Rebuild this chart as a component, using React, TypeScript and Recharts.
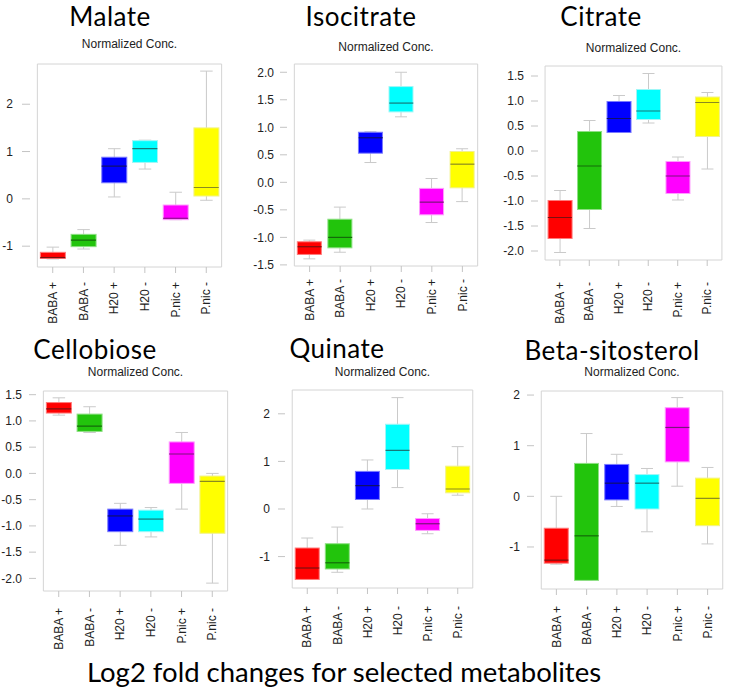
import React from "react";
import { ComposedChart, Bar, Scatter, XAxis, YAxis, ReferenceArea } from "recharts";

const groups = ["BABA +", "BABA -", "H20 +", "H20 -", "P.nic +", "P.nic -"];
const fills = ["#ff0000", "#22c40c", "#0000ff", "#00ffff", "#ff00ff", "#ffff00"];
const borders = ["#ff7a7a", "#8ee084", "#7a7aff", "#9ff7f7", "#ff9cff", "#f2f28a"];
const medians = ["#7a1010", "#146a0a", "#10106a", "#157a7a", "#7a157a", "#8a8a20"];

// [min, q1, median, q3, max] per group
const malate = [
  [-1.27, -1.26, -1.24, -1.13, -1.02],
  [-1.06, -1.01, -0.87, -0.75, -0.65],
  [0.04, 0.34, 0.69, 0.88, 1.06],
  [0.63, 0.77, 1.06, 1.23, 1.24],
  [-0.44, -0.44, -0.41, -0.13, 0.14],
  [-0.03, 0.06, 0.24, 1.5, 2.7],
];
const isocitrate = [
  [-1.39, -1.31, -1.17, -1.08, -1.05],
  [-1.27, -1.19, -1.0, -0.67, -0.45],
  [0.36, 0.53, 0.81, 0.91, 0.92],
  [1.19, 1.28, 1.44, 1.74, 2.0],
  [-0.73, -0.59, -0.36, -0.11, 0.07],
  [-0.35, -0.1, 0.33, 0.56, 0.61],
];
const citrate = [
  [-2.03, -1.75, -1.33, -0.99, -0.79],
  [-1.55, -1.17, -0.3, 0.39, 0.61],
  [0.37, 0.37, 0.65, 0.99, 1.11],
  [0.56, 0.63, 0.8, 1.23, 1.55],
  [-0.98, -0.85, -0.5, -0.21, -0.12],
  [-0.36, 0.29, 0.97, 1.08, 1.17],
];
const cellobiose = [
  [1.11, 1.15, 1.23, 1.35, 1.44],
  [0.78, 0.8, 0.9, 1.13, 1.27],
  [-1.37, -1.11, -0.81, -0.68, -0.57],
  [-1.21, -1.11, -0.87, -0.7, -0.65],
  [-0.68, -0.19, 0.37, 0.6, 0.78],
  [-2.09, -1.14, -0.15, -0.05, 0.0],
];
const quinate = [
  [-1.48, -1.48, -1.24, -0.82, -0.61],
  [-1.33, -1.26, -1.13, -0.73, -0.38],
  [0.0, 0.2, 0.49, 0.79, 1.03],
  [0.45, 0.83, 1.23, 1.78, 2.34],
  [-0.52, -0.45, -0.31, -0.2, -0.1],
  [0.29, 0.34, 0.42, 0.9, 1.31],
];
const betaSitosterol = [
  [-1.34, -1.32, -1.26, -0.63, 0.0],
  [-1.66, -1.66, -0.78, 0.65, 1.24],
  [-0.2, -0.07, 0.26, 0.63, 0.83],
  [-0.7, -0.25, 0.26, 0.43, 0.55],
  [0.2, 0.68, 1.36, 1.75, 1.95],
  [-0.94, -0.58, -0.04, 0.36, 0.57],
];

const unitTicks = [-1, 0, 1, 2];
const halfTicksUp = [-1.5, -1, -0.5, 0, 0.5, 1, 1.5, 2];
const halfTicksDown = [-2, -1.5, -1, -0.5, 0, 0.5, 1, 1.5];

const caption = "Log2 fold changes for selected metabolites";
const subtitle = "Normalized Conc.";

const panels = [
  { title: "Malate", stats: malate, domain: [-1.44, 2.85], ticks: unitTicks, digits: 0,
    frame: { x: 30, y: 64, w: 199, h: 203 }, yTick: 8, yGap: 9, xGap: 9, titleX: 110, titleY: 26, subY: 48 },
  { title: "Isocitrate", stats: isocitrate, domain: [-1.52, 2.15], ticks: halfTicksUp, digits: 1,
    frame: { x: 287, y: 64, w: 198, h: 202 }, yTick: 7, yGap: 6, xGap: 7, titleX: 361, titleY: 26, subY: 51 },
  { title: "Citrate", stats: citrate, domain: [-2.18, 1.7], ticks: halfTicksDown, digits: 1,
    frame: { x: 538, y: 66, w: 191, h: 194 }, yTick: 7, yGap: 7, xGap: 16, titleX: 601, titleY: 26, subY: 52 },
  { title: "Cellobiose", stats: cellobiose, domain: [-2.24, 1.57], ticks: halfTicksDown, digits: 1,
    frame: { x: 36, y: 391, w: 199, h: 200 }, yTick: 7, yGap: 7, xGap: 11, titleX: 95, titleY: 359, subY: 376 },
  { title: "Quinate", stats: quinate, domain: [-1.66, 2.5], ticks: unitTicks, digits: 0,
    frame: { x: 285, y: 390, w: 195, h: 198 }, yTick: 7, yGap: 8, xGap: 12, titleX: 337, titleY: 358, subY: 376 },
  { title: "Beta-sitosterol", stats: betaSitosterol, domain: [-1.83, 2.08], ticks: unitTicks, digits: 0,
    frame: { x: 534, y: 391, w: 196, h: 198 }, yTick: 7, yGap: 7, xGap: 11, titleX: 612, titleY: 360, subY: 376 },
];

const YW = 40;
const TOP = 4;
const RIGHT = 2;
const XH = 80;

function WhiskerShape(props: any) {
  const { x, y, width, height } = props;
  if (x == null || y == null) return null;
  const cx = x + width / 2;
  const top = Math.min(y, y + height);
  const bot = Math.max(y, y + height);
  const cap = width / 4;
  return (
    <g stroke="#cacaca" strokeWidth={1}>
      <line x1={cx} x2={cx} y1={top} y2={bot} />
      <line x1={cx - cap} x2={cx + cap} y1={top} y2={top} />
      <line x1={cx - cap} x2={cx + cap} y1={bot} y2={bot} />
    </g>
  );
}

function BoxShape(props: any) {
  const { x, y, width, height, index } = props;
  if (x == null || y == null) return null;
  const top = Math.min(y, y + height);
  return (
    <rect x={x} y={top} width={width} height={Math.abs(height)}
      fill={fills[index]} stroke={borders[index]} strokeWidth={1} />
  );
}

function MedianShape(props: any) {
  const { cx, cy, index, half } = props;
  if (cx == null || cy == null) return null;
  return <line x1={cx - half} x2={cx + half} y1={cy} y2={cy} stroke={medians[index]} strokeWidth={1.2} />;
}

function XTick(props: any) {
  const { x, y, payload } = props;
  return (
    <text x={x} y={y} transform={`rotate(-90 ${x} ${y})`} textAnchor="end" dy="0.35em"
      fontSize={12} fill="#222" fontFamily="'Liberation Sans', Arial, sans-serif">
      {payload.value}
    </text>
  );
}

function Panel({ p }: { p: any }) {
  const rows = groups.map((g, i) => ({
    name: g,
    whisker: [p.stats[i][0], p.stats[i][4]],
    box: [p.stats[i][1], p.stats[i][3]],
    med: p.stats[i][2],
  }));
  const pad = (p.frame.w * 0.24) / 6.48;
  const band = (p.frame.w - 2 * pad) / 6;
  const boxW = Math.round(band * 0.8);
  return (
    <div style={{ position: "absolute", left: p.frame.x - YW, top: p.frame.y - TOP }}>
      <ComposedChart
        width={YW + p.frame.w + RIGHT}
        height={TOP + p.frame.h + XH}
        data={rows}
        margin={{ top: TOP, right: RIGHT, bottom: 0, left: 0 }}
        barGap={-boxW}
        style={{ fontFamily: "'Liberation Sans', Arial, sans-serif" }}
      >
        <XAxis dataKey="name" type="category" interval={0} padding={{ left: pad, right: pad }}
          height={XH} axisLine={false} tickSize={6} tickMargin={p.xGap}
          tickLine={{ stroke: "#c4c4c4" }} tick={<XTick />} />
        <YAxis type="number" domain={p.domain} ticks={p.ticks} allowDataOverflow width={YW}
          axisLine={false} tickSize={p.yTick} tickMargin={p.yGap} tickLine={{ stroke: "#c4c4c4" }}
          tick={{ fontSize: 12, fill: "#222" }} tickFormatter={(v: number) => v.toFixed(p.digits)} />
        <ReferenceArea y1={p.domain[0]} y2={p.domain[1]} fill="none" stroke="#d4d4d4" strokeWidth={1} ifOverflow="visible" />
        <Bar dataKey="whisker" barSize={boxW} shape={<WhiskerShape />} isAnimationActive={false} />
        <Bar dataKey="box" barSize={boxW} shape={<BoxShape />} isAnimationActive={false} />
        <Scatter dataKey="med" shape={(s: any) => <MedianShape {...s} half={boxW / 2} />} isAnimationActive={false} />
      </ComposedChart>
    </div>
  );
}

export default function App() {
  return (
    <div style={{ position: "absolute", left: 0, top: 0, width: 732, height: 692, background: "#fff", overflow: "hidden" }}>
      {panels.map((p) => (
        <Panel key={p.title} p={p} />
      ))}
      <svg width={732} height={692} style={{ position: "absolute", left: 0, top: 0, pointerEvents: "none" }}>
        {panels.map((p) => (
          <g key={p.title}>
            <text x={p.titleX} y={p.titleY} textAnchor="middle" fontFamily="Lato, sans-serif" fontSize={26}
              letterSpacing={0.5} fill="#000">
              {p.title}
            </text>
            <text x={p.frame.x + p.frame.w / 2} y={p.subY} textAnchor="middle"
              fontFamily="'Liberation Sans', Arial, sans-serif" fontSize={12} fill="#222">
              {subtitle}
            </text>
          </g>
        ))}
        <text x={344} y={682} textAnchor="middle" fontFamily="Lato, sans-serif" fontSize={27.5} fill="#000">
          {caption}
        </text>
      </svg>
    </div>
  );
}
